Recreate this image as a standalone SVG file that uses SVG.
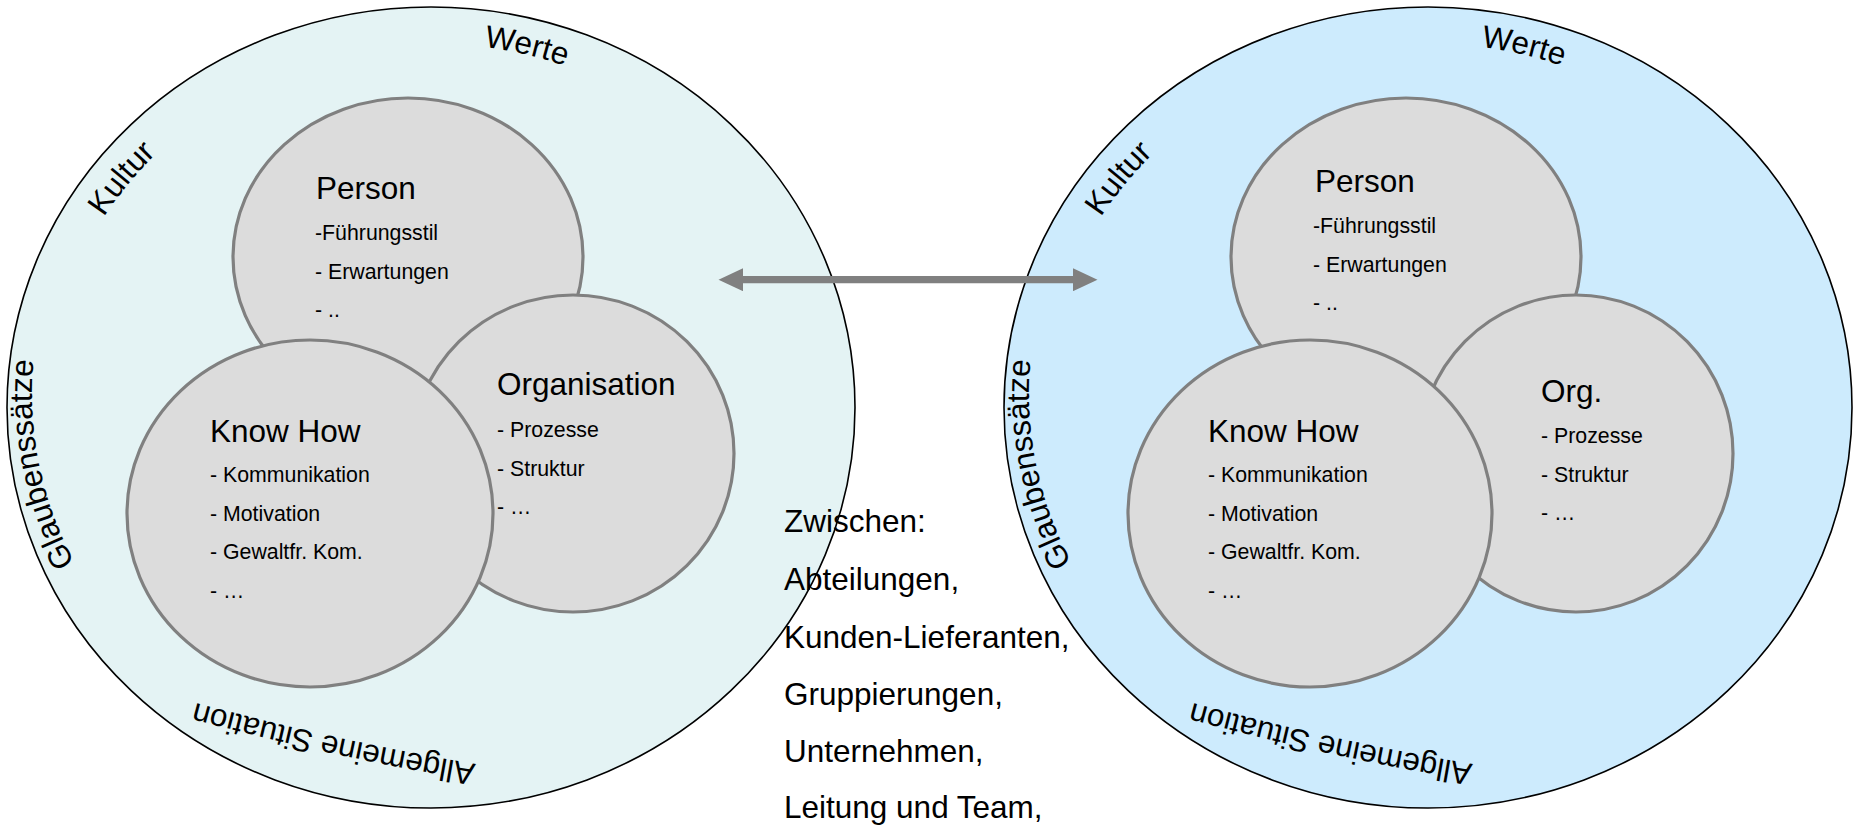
<svg xmlns="http://www.w3.org/2000/svg" width="1853" height="829" viewBox="0 0 1853 829">
<defs>
<style>
.outer{stroke:#000;stroke-width:1.6}
.inner{fill:#dcdcdc;stroke:#808080;stroke-width:3.2}
text{font-family:"Liberation Sans",Arial,Helvetica,sans-serif;fill:#000}
.h{font-size:31.5px}
.i{font-size:21.3px}
.lbl{font-size:31.5px}
.conn{stroke:#808080;stroke-width:7.3;fill:none}
</style>
<marker id="ah" markerUnits="userSpaceOnUse" markerWidth="25" markerHeight="23" viewBox="0 0 24.5 23" refX="2" refY="11.5" orient="auto-start-reverse">
<path d="M0,0 L24.5,11.5 L0,23 Z" fill="#808080"/>
</marker>
<path id="pW" d="M484,47 A386.7,365.3 0 0 1 679.6,127.7"/>
<path id="pK" d="M104,217 A384.1,362.9 0 0 1 562.4,66.5"/>
<path id="pG" d="M75,563 A396,374 0 0 1 34,355 A396,374 0 0 1 60,220"/>
<path id="pA" d="M476,764 Q331,740 186,700 L147,689"/>
</defs>

<g id="left-circle">
<ellipse class="outer" cx="431" cy="407.5" rx="424" ry="400.5" fill="#e4f3f4"/>
<text class="lbl"><textPath href="#pW">Werte</textPath></text>
<text class="lbl"><textPath href="#pK">Kultur</textPath></text>
<text class="lbl"><textPath href="#pG">Glaubenssätze</textPath></text>
<text class="lbl"><textPath href="#pA">Allgemeine Situation</textPath></text>
</g>

<g id="right-circle">
<ellipse class="outer" cx="1428" cy="407.5" rx="424" ry="400.5" fill="#cdebfd"/>
<g transform="translate(997,0)">
<text class="lbl"><textPath href="#pW">Werte</textPath></text>
<text class="lbl"><textPath href="#pK">Kultur</textPath></text>
<text class="lbl"><textPath href="#pG">Glaubenssätze</textPath></text>
<text class="lbl"><textPath href="#pA">Allgemeine Situation</textPath></text>
</g>
</g>

<g id="left-person">
<ellipse class="inner" cx="408" cy="257" rx="175" ry="159"/>
<text class="h" x="316" y="199">Person</text>
<text class="i" x="315" y="240">-Führungsstil</text>
<text class="i" x="315" y="279">- Erwartungen</text>
<text class="i" x="315" y="317">- ..</text>
</g>
<g id="left-organisation">
<ellipse class="inner" cx="573" cy="453.5" rx="161" ry="158.5"/>
<text class="h" x="497" y="395">Organisation</text>
<text class="i" x="497" y="437">- Prozesse</text>
<text class="i" x="497" y="476">- Struktur</text>
<text class="i" x="497" y="514">- …</text>
</g>
<g id="left-knowhow">
<ellipse class="inner" cx="310" cy="513.5" rx="183" ry="173.5"/>
<text class="h" x="210" y="442">Know How</text>
<text class="i" x="210" y="482">- Kommunikation</text>
<text class="i" x="210" y="521">- Motivation</text>
<text class="i" x="210" y="559">- Gewaltfr. Kom.</text>
<text class="i" x="210" y="598">- …</text>
</g>

<g id="right-person">
<ellipse class="inner" cx="1406" cy="257" rx="175" ry="159"/>
<text class="h" x="1315" y="192">Person</text>
<text class="i" x="1313" y="233">-Führungsstil</text>
<text class="i" x="1313" y="272">- Erwartungen</text>
<text class="i" x="1313" y="310">- ..</text>
</g>
<g id="right-org">
<ellipse class="inner" cx="1576" cy="453.5" rx="157" ry="158.5"/>
<text class="h" x="1541" y="402">Org.</text>
<text class="i" x="1541" y="443">- Prozesse</text>
<text class="i" x="1541" y="482">- Struktur</text>
<text class="i" x="1541" y="520">- …</text>
</g>
<g id="right-knowhow">
<ellipse class="inner" cx="1310" cy="513.5" rx="182" ry="173.5"/>
<text class="h" x="1208" y="442">Know How</text>
<text class="i" x="1208" y="482">- Kommunikation</text>
<text class="i" x="1208" y="521">- Motivation</text>
<text class="i" x="1208" y="559">- Gewaltfr. Kom.</text>
<text class="i" x="1208" y="598">- …</text>
</g>

<g id="connectors">
<path class="conn" d="M741,279.7 L1075,279.7" marker-start="url(#ah)" marker-end="url(#ah)"/>
</g>

<g id="between-label">
<text class="h" x="784" y="532">Zwischen:</text>
<text class="h" x="784" y="590">Abteilungen,</text>
<text class="h" x="784" y="648">Kunden-Lieferanten,</text>
<text class="h" x="784" y="705">Gruppierungen,</text>
<text class="h" x="784" y="762">Unternehmen,</text>
<text class="h" x="784" y="818">Leitung und Team,</text>
</g>
</svg>
